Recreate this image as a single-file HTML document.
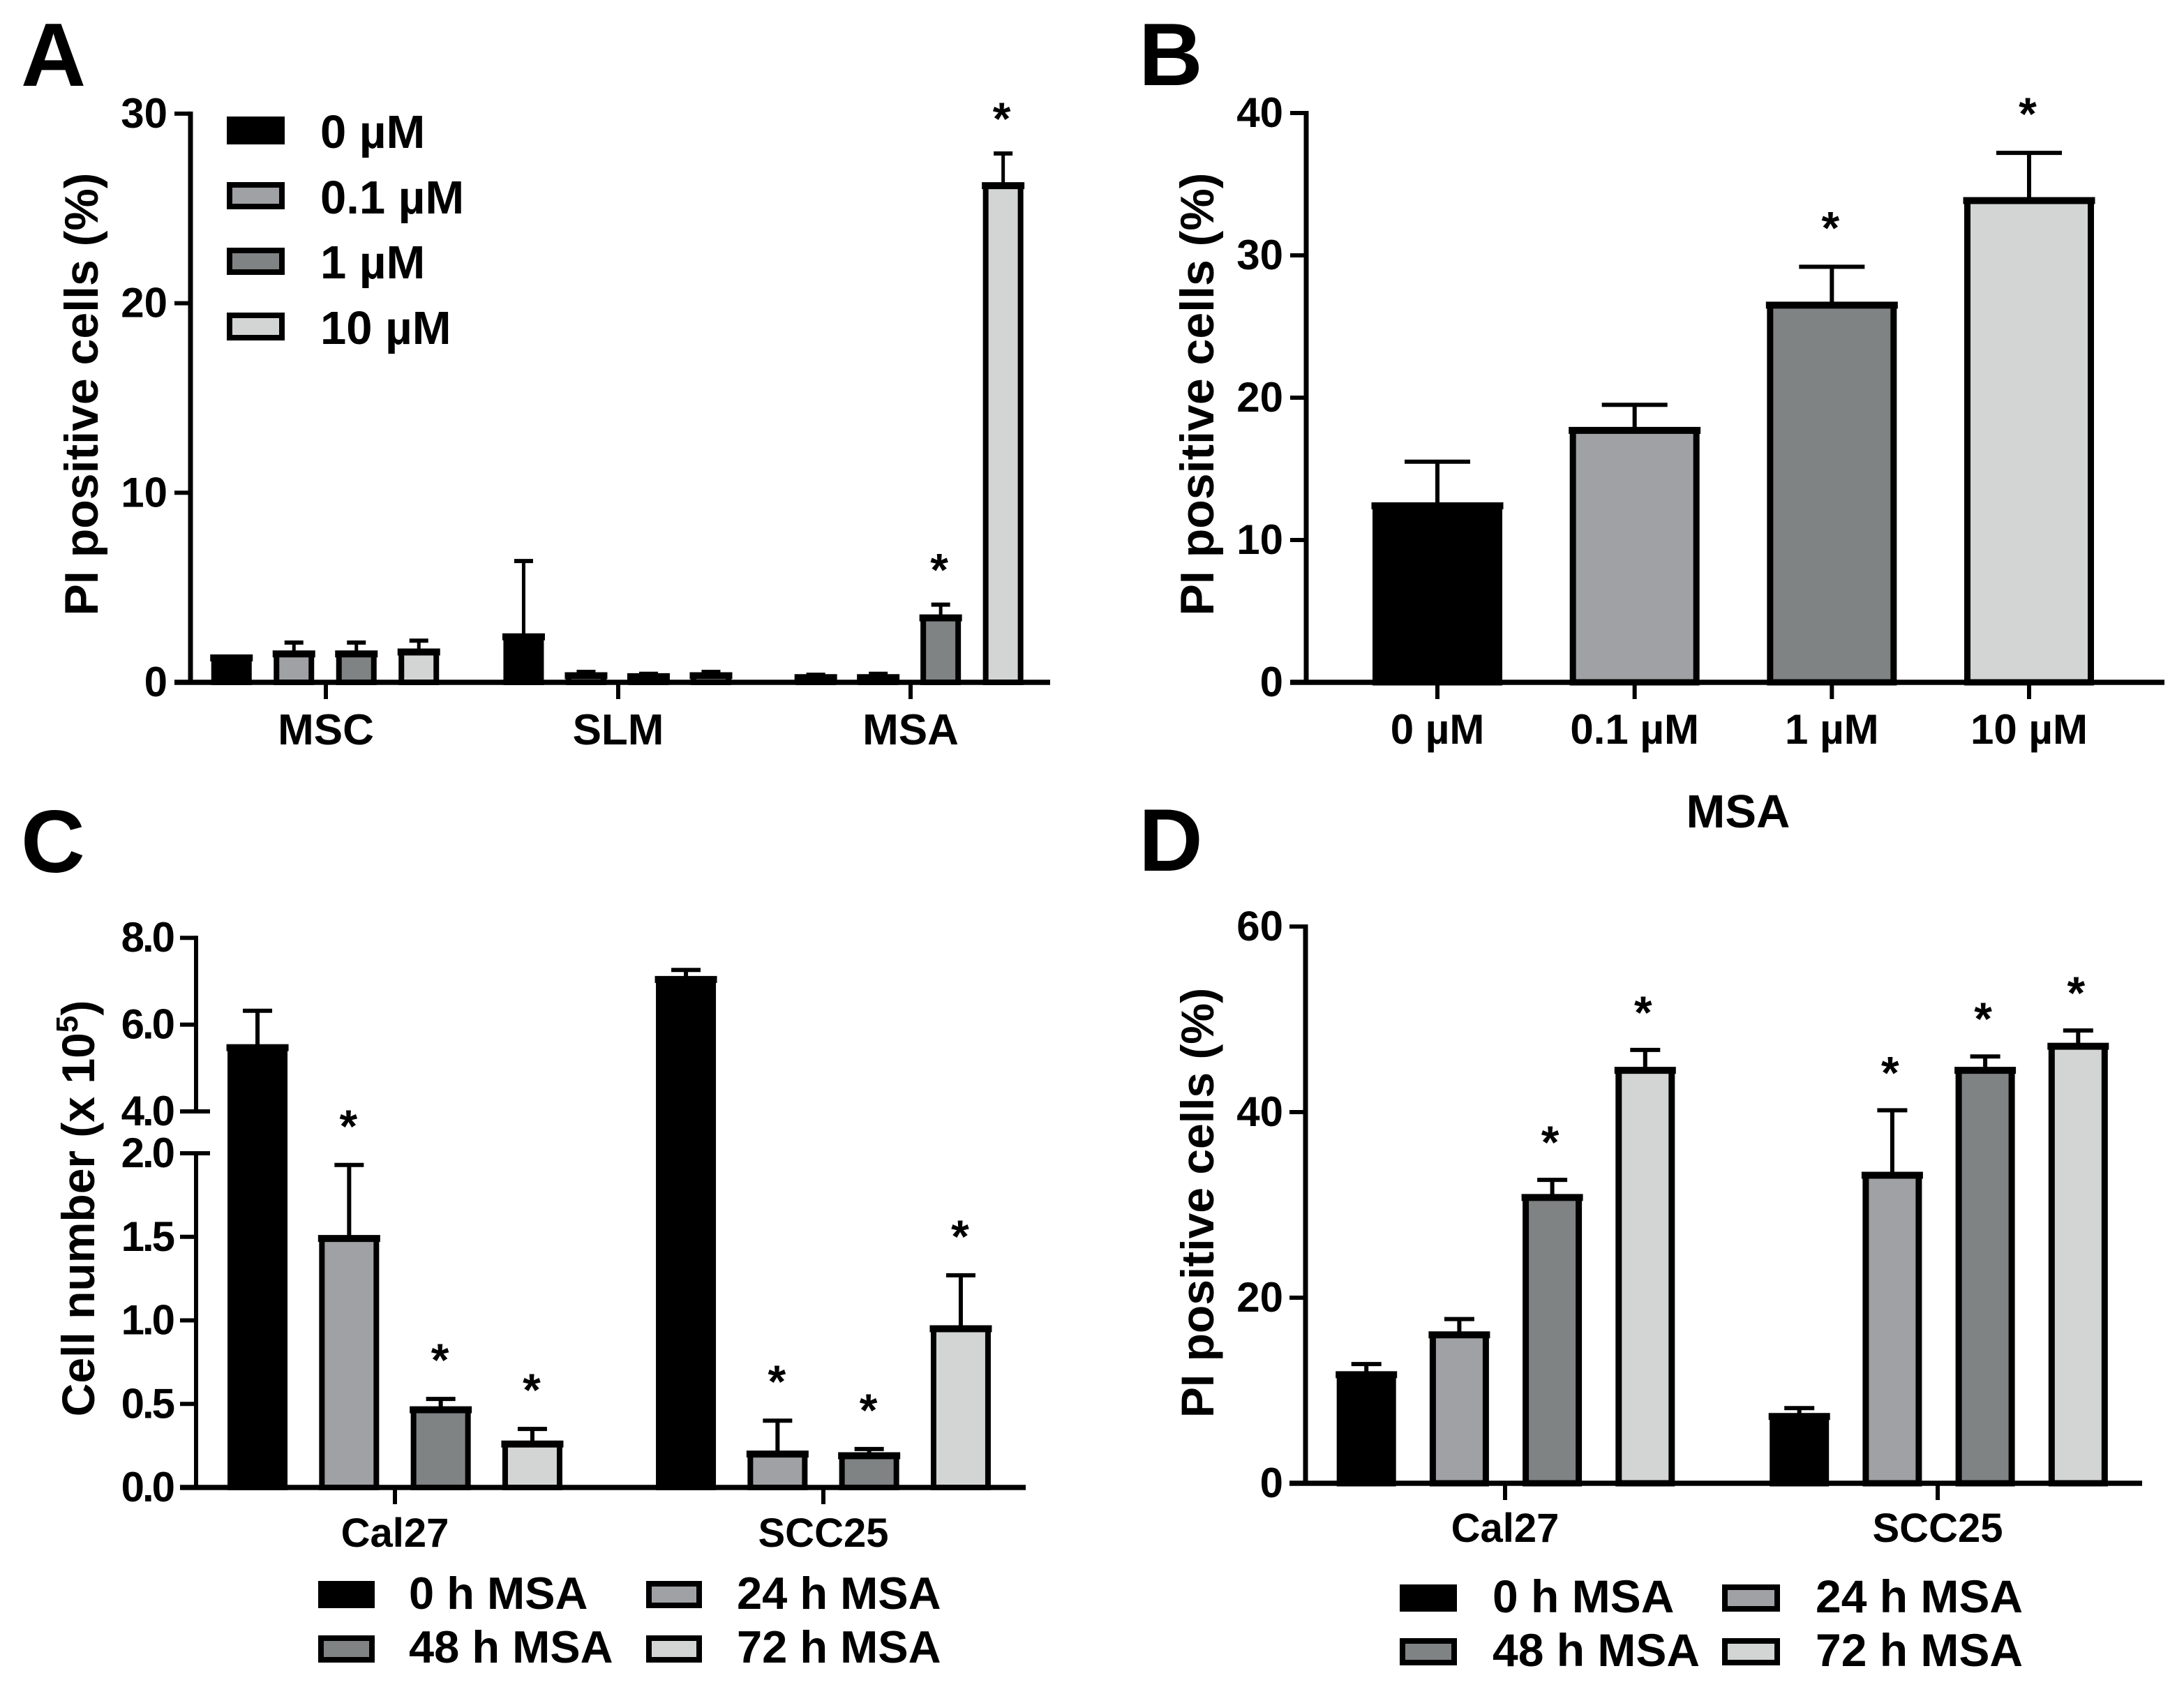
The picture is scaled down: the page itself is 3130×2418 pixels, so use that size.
<!DOCTYPE html>
<html>
<head>
<meta charset="utf-8">
<style>
html,body{margin:0;padding:0;background:#fff;width:3130px;height:2418px;overflow:hidden}
svg{display:block}
text{font-family:"Liberation Sans",Arial,sans-serif;font-weight:bold;fill:#000}
</style>
</head>
<body>
<svg id="figure" xmlns="http://www.w3.org/2000/svg" width="3130" height="2418" viewBox="0 0 3130 2418">
<rect width="3130" height="2418" fill="#fff"/>

<text x="30" y="123" font-size="129">A</text>
<text x="1632" y="122" font-size="127">B</text>
<text x="30" y="1250" font-size="127">C</text>
<text x="1632" y="1248" font-size="127">D</text>

<text transform="translate(140 565) rotate(-90)" text-anchor="middle" font-size="68">PI positive cells (%)</text>
<text transform="translate(1739 565) rotate(-90)" text-anchor="middle" font-size="68">PI positive cells (%)</text>
<text transform="translate(135 1732) rotate(-90)" text-anchor="middle" font-size="66">Cell number (x 10<tspan dy="-24" font-size="44">5</tspan><tspan dy="24">)</tspan></text>
<text transform="translate(1739 1724) rotate(-90)" text-anchor="middle" font-size="66">PI positive cells (%)</text>
<text x="2491" y="1186" text-anchor="middle" font-size="67">MSA</text>

<g>
  <rect x="329" y="171" width="75" height="32" fill="#000" stroke="#000" stroke-width="8"/>
  <text x="459" y="212" font-size="67">0 µM</text>
  <rect x="329" y="265" width="75" height="31" fill="#a0a1a4" stroke="#000" stroke-width="8"/>
  <text x="459" y="306" font-size="67">0.1 µM</text>
  <rect x="329" y="359" width="75" height="31" fill="#808384" stroke="#000" stroke-width="8"/>
  <text x="459" y="399" font-size="67">1 µM</text>
  <rect x="329" y="452" width="75" height="32" fill="#d3d5d4" stroke="#000" stroke-width="8"/>
  <text x="459" y="493" font-size="67">10 µM</text>
</g>

<g>
  <rect x="460" y="2270" width="73" height="31" fill="#000" stroke="#000" stroke-width="8"/>
  <text x="586" y="2306" font-size="65">0 h MSA</text>
  <rect x="930" y="2270" width="72" height="31" fill="#a0a1a4" stroke="#000" stroke-width="8"/>
  <text x="1056" y="2306" font-size="65">24 h MSA</text>
  <rect x="460" y="2348" width="73" height="31" fill="#808384" stroke="#000" stroke-width="8"/>
  <text x="586" y="2383" font-size="65">48 h MSA</text>
  <rect x="930" y="2348" width="72" height="31" fill="#d3d5d4" stroke="#000" stroke-width="8"/>
  <text x="1056" y="2383" font-size="65">72 h MSA</text>
</g>

<g>
  <rect x="2010" y="2275" width="74" height="31" fill="#000" stroke="#000" stroke-width="8"/>
  <text x="2139" y="2311" font-size="66">0 h MSA</text>
  <rect x="2472" y="2275" width="75" height="31" fill="#a0a1a4" stroke="#000" stroke-width="8"/>
  <text x="2602" y="2311" font-size="66">24 h MSA</text>
  <rect x="2010" y="2352" width="74" height="31" fill="#808384" stroke="#000" stroke-width="8"/>
  <text x="2139" y="2388" font-size="66">48 h MSA</text>
  <rect x="2472" y="2352" width="75" height="31" fill="#d3d5d4" stroke="#000" stroke-width="8"/>
  <text x="2602" y="2388" font-size="66">72 h MSA</text>
</g>
</svg>

<script>
// ---------- Panel A ----------
const aGroups = ['MSC', 'SLM', 'MSA'];
const aMeans = [1.29, 1.5, 1.5, 1.6, 2.4, 0.35, 0.3, 0.35, 0.25, 0.25, 3.4, 26.2];
const aErrors = [0, 0.6, 0.6, 0.6, 4.0, 0.2, 0.15, 0.2, 0.15, 0.2, 0.7, 1.7];
const aStars = [0, 0, 0, 0, 0, 0, 0, 0, 0, 0, 1, 1];
const aTicks = [0, 10, 20, 30];
const aTickLabels = ['0', '10', '20', '30'];

// ---------- Panel B ----------
const bGroups = ['0 µM', '0.1 µM', '1 µM', '10 µM'];
const bMeans = [12.4, 17.7, 26.5, 33.85];
const bErrors = [3.1, 1.8, 2.7, 3.35];
const bStars = [0, 0, 1, 1];
const bTicks = [0, 10, 20, 30, 40];
const bTickLabels = ['0', '10', '20', '30', '40'];

// ---------- Panel C ----------
const cGroups = ['Cal27', 'SCC25'];
const cMeans = [5.47, 1.49, 0.465, 0.26, 7.04, 0.2, 0.19, 0.95];
const cErrors = [0.85, 0.44, 0.065, 0.09, 0.22, 0.2, 0.04, 0.32];
const cStars = [0, 1, 1, 1, 0, 1, 1, 1];
const cTicks = [0, 0.5, 1, 1.5, 2, 4, 6, 8];
const cTickLabels = ['0.0', '0.5', '1.0', '1.5', '2.0', '4.0', '6.0', '8.0'];

// ---------- Panel D ----------
const dGroups = ['Cal27', 'SCC25'];
const dMeans = [11.7, 16, 30.8, 44.5, 7.2, 33.2, 44.5, 47.1];
const dErrors = [1.15, 1.7, 1.9, 2.2, 0.9, 7, 1.5, 1.7];
const dStars = [0, 0, 1, 1, 0, 1, 1, 1];
const dTicks = [0, 20, 40, 60];
const dTickLabels = ['0', '20', '40', '60'];

const seriesFills = ['#000000', '#a0a1a4', '#808384', '#d3d5d4'];

const NS = 'http://www.w3.org/2000/svg';
const svg = document.getElementById('figure');

function line(parent, x1, y1, x2, y2, w) {
  const l = document.createElementNS(NS, 'line');
  l.setAttribute('x1', x1);
  l.setAttribute('y1', y1);
  l.setAttribute('x2', x2);
  l.setAttribute('y2', y2);
  l.setAttribute('stroke', '#000');
  l.setAttribute('stroke-width', w);
  parent.appendChild(l);
  return l;
}

function label(parent, x, y, size, anchor, str) {
  const t = document.createElementNS(NS, 'text');
  t.setAttribute('x', x);
  t.setAttribute('y', y);
  t.setAttribute('font-size', size);
  t.setAttribute('text-anchor', anchor);
  t.textContent = str;
  parent.appendChild(t);
  return t;
}

function drawPanel(p) {
  const g = document.createElementNS(NS, 'g');
  
  
  svg.appendChild(g);

  const perGroup = p.means.length / p.groups.length;

  // bars, error bars and asterisks
  p.means.forEach(function (v, i) {
    const groupIndex = Math.floor(i / perGroup);
    const seriesIndex = i % perGroup;
    const cx = p.groupX(groupIndex) + (seriesIndex - (perGroup - 1) / 2) * p.barStep;
    const top = p.y(v);
    const errTop = p.y(v + p.errors[i]);
    const half = p.barWidth / 2;
    const sw = p.barStroke;

    if (p.errors[i] > 0) {
      const stem = line(g, cx, top, cx, errTop, p.stemWidth);
      
      
      const cap = line(g, cx - p.capWidth / 2, errTop, cx + p.capWidth / 2, errTop, 6);
      
      
    }

    const fill = p.perBarColor ? seriesFills[i] : seriesFills[seriesIndex];
    const r = document.createElementNS(NS, 'rect');
    r.setAttribute('x', cx - half + sw / 2);
    r.setAttribute('y', top);
    r.setAttribute('width', p.barWidth - sw);
    r.setAttribute('height', Math.max(0, p.y0 - top));
    r.setAttribute('fill', fill);
    r.setAttribute('stroke', '#000');
    r.setAttribute('stroke-width', sw);
    
    
    g.appendChild(r);

    const topLine = line(g, cx - half - 1.5, top, cx + half + 1.5, top, 10);
    
    

    if (p.stars[i]) {
      const s = label(g, cx + p.starShift, errTop - p.starGap + 38, 66, 'middle', '*');
      
      
    }
  });

  // y axis
  p.axisSegments.forEach(function (seg) {
    const a = line(g, p.x0, p.y(seg[0]) + 3, p.x0, p.y(seg[1]) - 3, p.axisWidth);
    
    
  });
  p.ticks.forEach(function (v, i) {
    const yy = p.y(v);
    const isBreak = p.breakTicks && p.breakTicks.indexOf(v) >= 0;
    const t = line(g, p.tickLeft, yy, isBreak ? p.x0 + 20 : p.x0, yy, 6);
    
    
    const tl = label(g, p.labelRight, yy + 20, 60, 'end', p.tickLabels[i]);
    
    
    if (p.tickSpacing) {
      tl.setAttribute('letter-spacing', p.tickSpacing);
    }
  });

  // x axis
  const xa = line(g, p.tickLeft, p.y0, p.xEnd, p.y0, 7.5);
  
  
  p.groups.forEach(function (name, i) {
    const gx = p.groupTickX(i);
    const xt = line(g, gx, p.y0, gx, p.y0 + 24, 6);
    
    
    const xl = label(g, gx, p.xLabelY, p.xLabelSize, 'middle', name);
    
    
  });
}

function linear(y0, k) {
  return function (v) { return y0 - v * k; };
}

function brokenC(v) {
  if (v <= 2) return 2132 - v * 239.5;
  if (v < 4) return 1653 - (v - 2) * 30;
  return 1593 - (v - 4) * 62.2;
}

drawPanel({
  id: 'a', groups: aGroups, means: aMeans, errors: aErrors, stars: aStars,
  ticks: aTicks, tickLabels: aTickLabels,
  y: linear(978, 27.17), y0: 978, x0: 273, tickLeft: 250, xEnd: 1505, labelRight: 240,
  groupX: function (i) { return 466 + i * 418.7; },
  groupTickX: function (i) { return 467 + i * 419; },
  barStep: 89.5, barWidth: 58, barStroke: 8, stemWidth: 5, capWidth: 27, starGap: 65, starShift: -2,
  axisWidth: 7, axisSegments: [[0, 30]], xLabelY: 1067, xLabelSize: 62
});

drawPanel({
  id: 'b', groups: bGroups, means: bMeans, errors: bErrors, stars: bStars,
  ticks: bTicks, tickLabels: bTickLabels,
  y: linear(978, 20.4), y0: 978, x0: 1872, tickLeft: 1849, xEnd: 3102, labelRight: 1839,
  groupX: function (i) { return 2060 + i * 282.67; },
  groupTickX: function (i) { return 2060 + i * 282.67; },
  barStep: 0, barWidth: 186, barStroke: 9, stemWidth: 6, capWidth: 94, starGap: 71, starShift: -2,
  axisWidth: 7, axisSegments: [[0, 40]], xLabelY: 1066, xLabelSize: 60, perBarColor: true
});

drawPanel({
  id: 'c', groups: cGroups, means: cMeans, errors: cErrors, stars: cStars,
  ticks: cTicks, tickLabels: cTickLabels,
  y: brokenC, y0: 2132, x0: 281, tickLeft: 258, xEnd: 1470, labelRight: 248,
  groupX: function (i) { return 566 + i * 614; },
  groupTickX: function (i) { return 566 + i * 614; },
  barStep: 131.3, barWidth: 86, barStroke: 8, stemWidth: 6, capWidth: 42, starGap: 71, starShift: -1,
  axisWidth: 6, axisSegments: [[0, 2], [4, 8]], breakTicks: [2, 4], tickSpacing: -3,
  xLabelY: 2217, xLabelSize: 58
});

drawPanel({
  id: 'd', groups: dGroups, means: dMeans, errors: dErrors, stars: dStars,
  ticks: dTicks, tickLabels: dTickLabels,
  y: linear(2126, 13.3), y0: 2126, x0: 1871, tickLeft: 1848, xEnd: 3070, labelRight: 1839,
  groupX: function (i) { return 2158 + i * 620.5; },
  groupTickX: function (i) { return 2157 + i * 620; },
  barStep: 133.2, barWidth: 85, barStroke: 9, stemWidth: 6, capWidth: 43, starGap: 69, starShift: -3,
  axisWidth: 7, axisSegments: [[0, 60]], xLabelY: 2210, xLabelSize: 58
});
</script>
</body>
</html>
